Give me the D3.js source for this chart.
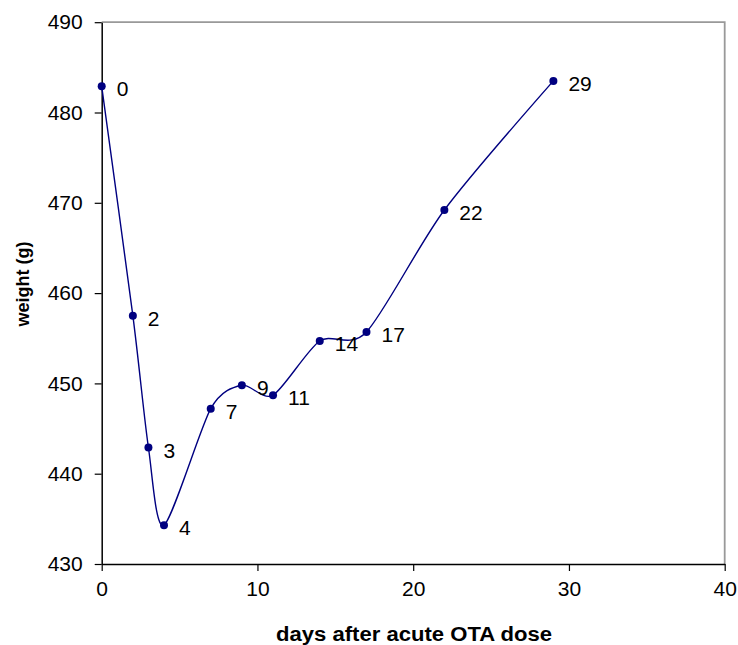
<!DOCTYPE html>
<html>
<head>
<meta charset="utf-8">
<script src="https://cdn.jsdelivr.net/npm/d3@7"></script>
<style>
  body { margin: 0; background: #fff; }
  svg { display: block; font-family: Arial, "Liberation Sans", sans-serif; }
</style>
</head>
<body>
<div id="chart"></div>
<script>
// données
const days = [0, 2, 3, 4, 7, 9, 11, 14, 17, 22, 29];
const weights = [482.9, 457.5, 442.9, 434.3, 447.2, 449.8, 448.7, 454.7, 455.7, 469.2, 483.5];
const xTicks = [0, 10, 20, 30, 40];
const yTicks = [430, 440, 450, 460, 470, 480, 490];

const data = days.map((d, i) => ({ day: d, weight: weights[i] }));

const width = 738, height = 645;
const margin = { left: 101.7, right: 13.3, top: 22.2, bottom: 81 };

const svg = d3.select("#chart")
  .append("svg")
  .attr("width", width)
  .attr("height", height);

const x = d3.scaleLinear()
  .domain([0, 40])
  .range([margin.left, width - margin.right]);

const y = d3.scaleLinear()
  .domain([430, 490])
  .range([height - margin.bottom, margin.top]);

// cadre gris en haut et à droite
svg.append("path")
  .attr("d", `M${x(0)},${y(490)}H${x(40)}V${y(430)}`)
  .attr("fill", "none")
  .attr("stroke", "#999")
  .attr("stroke-width", 1.8);

// axes
const xAxis = svg.append("g")
  .attr("transform", "translate(0," + y(430) + ")")
  .call(d3.axisBottom(x).tickValues(xTicks).tickSize(7).tickPadding(10).tickSizeOuter(0));

const yAxis = svg.append("g")
  .attr("transform", "translate(" + x(0) + ",0)")
  .call(d3.axisLeft(y).tickValues(yTicks).tickSize(7).tickPadding(12).tickSizeOuter(0));

[xAxis, yAxis].forEach(g => {
  g.select(".domain").attr("stroke", "#000").attr("stroke-width", 1.5);
  g.selectAll(".tick line").attr("stroke", "#000").attr("stroke-width", 1.2);
  g.selectAll(".tick text")
    .attr("fill", "#000")
    .style("font-family", "Arial, 'Liberation Sans', sans-serif")
    .style("font-size", "21px");
});

// courbe lissée (type Excel)
const line = d3.line()
  .x(d => x(d.day))
  .y(d => y(d.weight))
  .curve(d3.curveCardinal.tension(0.2));

svg.append("path")
  .datum(data)
  .attr("fill", "none")
  .attr("stroke", "#000080")
  .attr("stroke-width", 1.4)
  .attr("d", line);

svg.selectAll(".pt")
  .data(data)
  .enter().append("circle")
  .attr("class", "pt")
  .attr("cx", d => x(d.day))
  .attr("cy", d => y(d.weight))
  .attr("r", 4)
  .attr("fill", "#000080");

svg.selectAll(".lbl")
  .data(data)
  .enter().append("text")
  .attr("class", "lbl")
  .attr("x", d => x(d.day) + 15)
  .attr("y", d => y(d.weight) + 10)
  .attr("font-size", 21)
  .attr("fill", "#000")
  .text(d => d.day);

// titres des axes
svg.append("text")
  .attr("x", 414)
  .attr("y", 641)
  .attr("text-anchor", "middle")
  .attr("font-size", 19.5)
  .attr("font-weight", "bold")
  .attr("textLength", 276)
  .attr("lengthAdjust", "spacingAndGlyphs")
  .text("days after acute OTA dose");

svg.append("text")
  .attr("transform", "translate(29,284) rotate(-90)")
  .attr("text-anchor", "middle")
  .attr("font-size", 18)
  .attr("font-weight", "bold")
  .text("weight (g)");
</script>
</body>
</html>
